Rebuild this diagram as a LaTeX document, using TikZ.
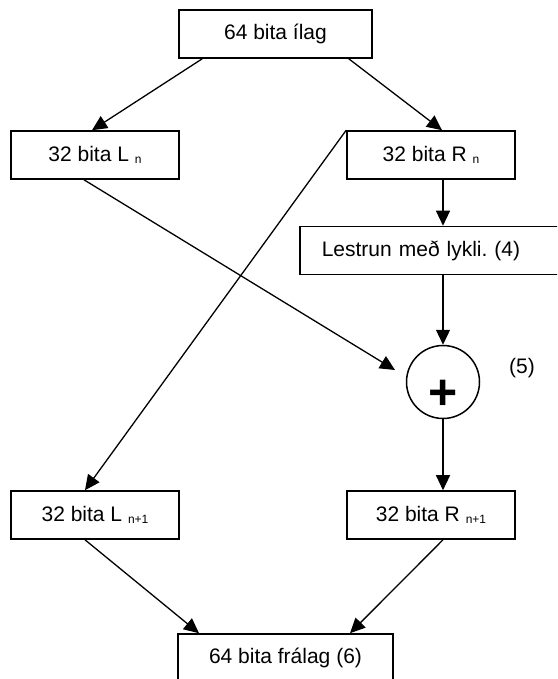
\documentclass[tikz,border=0pt]{standalone}
\usepackage{fontspec}
\setmainfont{Liberation Sans}
\usetikzlibrary{arrows.meta}

\newcommand{\idx}[1]{{\fontsize{12}{12}\selectfont\raisebox{-1.5pt}{#1}}}

\begin{document}
\frenchspacing
\begin{tikzpicture}[
        x=1pt, y=-1pt,
        every node/.style={font=\fontsize{21}{25}\selectfont, align=center},
        blokk/.style={draw, line width=1.6pt, minimum height=48pt, inner sep=0pt},
        xorhringur/.style={draw, circle, line width=1.5pt, minimum size=73pt, inner sep=0pt,
            font=\fontsize{50}{50}\selectfont\bfseries, text height=55pt, text depth=0pt},
        or/.style={-{Triangle[length=15pt, width=14pt]}, line width=1.3pt}
    ]
        \useasboundingbox (0,0) rectangle (557,679);
        \clip (0,0) rectangle (557,679);

        \node[blokk, minimum width=193pt] (inn)   at (275.5, 34)  {64 bita ílag};
        \node[blokk, minimum width=168pt] (ln)    at (95, 155)    {32 bita L \idx{n}};
        \node[blokk, minimum width=168pt] (rn)    at (431, 155)   {32 bita R \idx{n}};
        \node[blokk, anchor=west, align=left, text width=300pt, inner xsep=22pt] (lykill) at (299, 250.5) {Lestrun með lykli. (4)};
        \node[xorhringur] (plus) at (443, 382) {+};
        \node (fimm) at (522, 368) {(5)};
        \node[blokk, minimum width=168pt] (lnext) at (95, 515)    {32 bita L \idx{n+1}};
        \node[blokk, minimum width=168pt] (rnext) at (431, 515)   {32 bita R \idx{n+1}};
        \node[blokk, minimum width=215pt] (ut)    at (285.5, 658) {64 bita frálag (6)};
        \coordinate (linn) at (395, 370);

        \draw[or] ([xshift=24pt]inn.south west) -- ([xshift=-3pt]ln.north);
        \draw[or] ([xshift=-24pt]inn.south east) -- ([xshift=11pt]rn.north);
        \draw[or] (rn.south -| plus) -- (lykill.north -| plus);
        \draw[or] (lykill.south -| plus) -- (plus.north);
        \draw[or] ([xshift=-11pt]ln.south) -- (linn);
        \draw[or] (rn.north west) -- ([xshift=-10pt]lnext.north);
        \draw[or] (plus.south) -- (rnext.north -| plus);
        \draw[or] ([xshift=-10pt]lnext.south) -- ([xshift=-86.5pt]ut.north);
        \draw[or] ([xshift=12pt]rnext.south) -- ([xshift=64.5pt]ut.north);
    \end{tikzpicture}
\end{document}
